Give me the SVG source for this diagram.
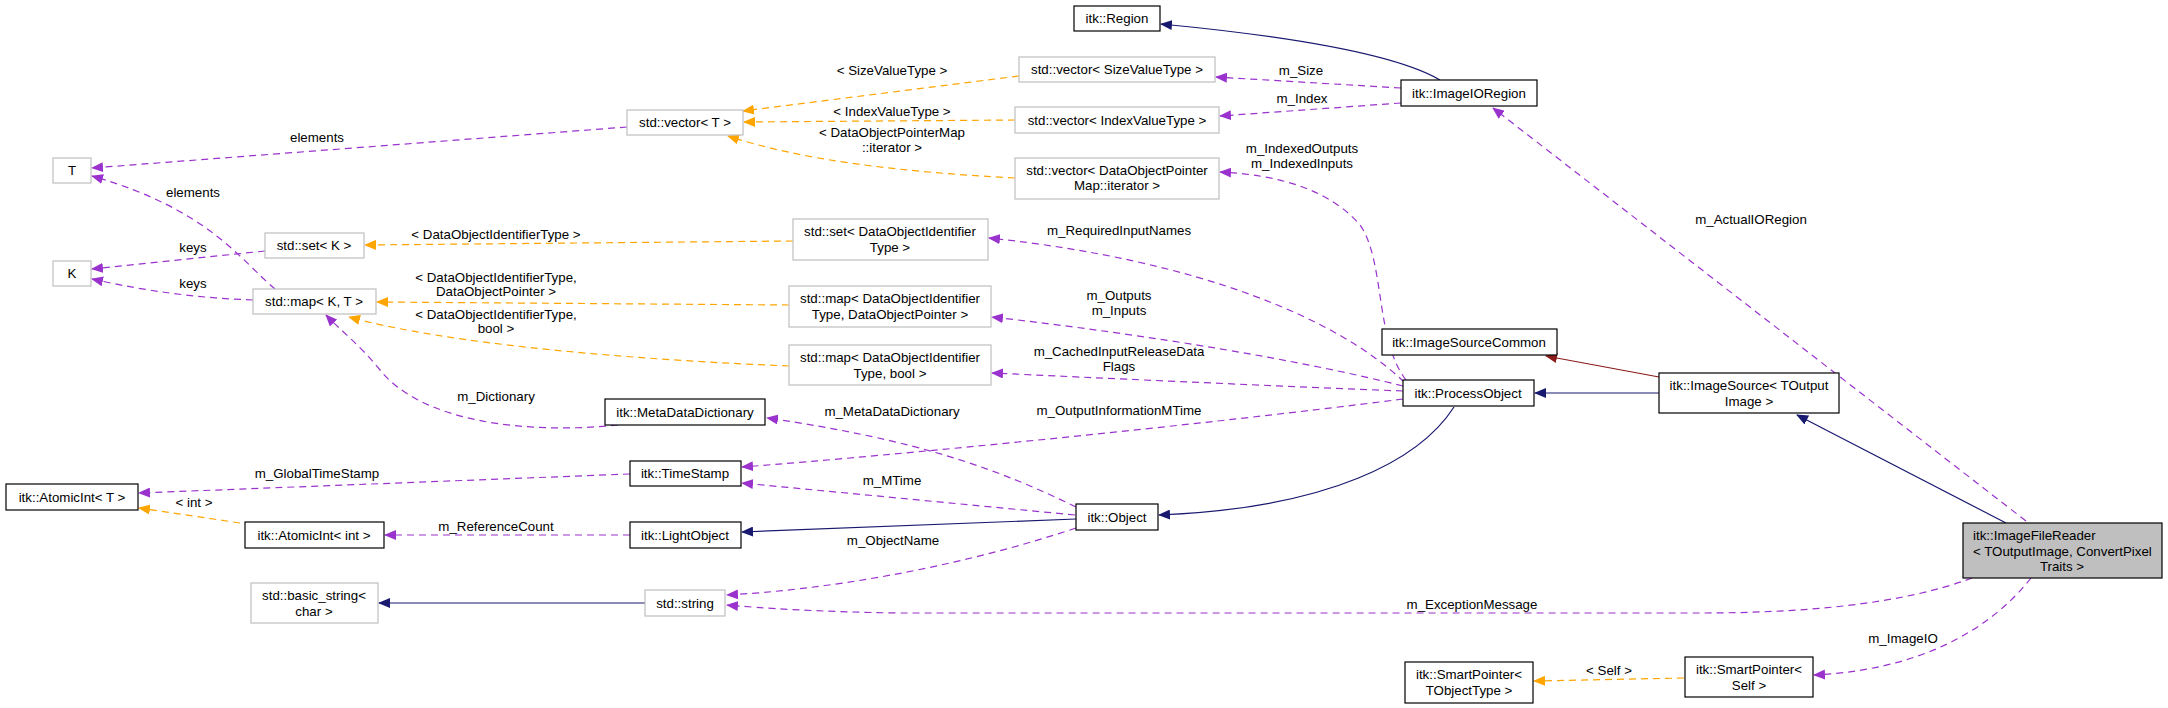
<svg xmlns="http://www.w3.org/2000/svg" width="2168" height="708" viewBox="0 0 2168 708">
<style>
text{font-family:"Liberation Sans",Arial,sans-serif;font-size:13.3px;fill:#000}
.n rect{fill:#fff;stroke:#000;stroke-width:1.2}
.g rect{fill:#fff;stroke:#bfbfbf;stroke-width:1.2}
.cur rect{fill:#bfbfbf;stroke:#000;stroke-width:1.2}
.c text{text-anchor:middle}
.n text,.g text{text-anchor:middle}
.p{fill:none;stroke:#9a32cd;stroke-width:1.2;stroke-dasharray:7,5;marker-end:url(#mp)}
.o{fill:none;stroke:#ffa500;stroke-width:1.2;stroke-dasharray:7,5;marker-end:url(#mo)}
.b{fill:none;stroke:#191970;stroke-width:1.2;marker-end:url(#mb)}
.r{fill:none;stroke:#8b1a1a;stroke-width:1.2;marker-end:url(#mr)}
</style>
<defs>
<marker id="mp" markerWidth="12" markerHeight="10" refX="11" refY="5" orient="auto" markerUnits="userSpaceOnUse"><path d="M0,0L12,5L0,10z" fill="#9a32cd"/></marker>
<marker id="mo" markerWidth="12" markerHeight="10" refX="11" refY="5" orient="auto" markerUnits="userSpaceOnUse"><path d="M0,0L12,5L0,10z" fill="#ffa500"/></marker>
<marker id="mb" markerWidth="12" markerHeight="10" refX="11" refY="5" orient="auto" markerUnits="userSpaceOnUse"><path d="M0,0L12,5L0,10z" fill="#191970"/></marker>
<marker id="mr" markerWidth="12" markerHeight="10" refX="11" refY="5" orient="auto" markerUnits="userSpaceOnUse"><path d="M0,0L12,5L0,10z" fill="#8b1a1a"/></marker>
</defs>
<rect width="2168" height="708" fill="#fff"/>
<g id="connectors" class="c">
<path class="b" d="M1440,80 Q1380,45 1161,24"/>
<path class="p" d="M1401,88 L1216,77"/><text x="1301" y="75">m_Size</text>
<path class="p" d="M1401,103 L1220,116"/><text x="1302" y="103">m_Index</text>
<path class="o" d="M1019,76 L743,111"/><text x="892" y="75">&lt; SizeValueType &gt;</text>
<path class="o" d="M1015,120 L744,122"/><text x="892" y="116">&lt; IndexValueType &gt;</text>
<path class="o" d="M1015,178 C900,172 800,160 728,136"/><text x="892" y="137">&lt; DataObjectPointerMap</text><text x="892" y="152">::iterator &gt;</text>
<path class="p" d="M627,127 L92,168"/><text x="317" y="142">elements</text>
<path class="p" d="M275,289 C240,260 210,210 92,176"/><text x="193" y="197">elements</text>
<path class="p" d="M265,251 L92,269"/><text x="193" y="252">keys</text>
<path class="p" d="M253,300 C200,298 150,292 92,279"/><text x="193" y="288">keys</text>
<path class="o" d="M793,241 L365,245"/><text x="496" y="239">&lt; DataObjectIdentifierType &gt;</text>
<path class="o" d="M789,305 L377,302"/><text x="496" y="282">&lt; DataObjectIdentifierType,</text><text x="496" y="296">DataObjectPointer &gt;</text>
<path class="o" d="M789,366 C640,360 450,345 349,317"/><text x="496" y="319">&lt; DataObjectIdentifierType,</text><text x="496" y="333">bool &gt;</text>
<path class="p" d="M1406,380 C1375,340 1385,260 1360,225 C1330,190 1280,175 1220,172"/><text x="1302" y="153">m_IndexedOutputs</text><text x="1302" y="168">m_IndexedInputs</text>
<path class="p" d="M1404,382 C1340,320 1200,260 989,238"/><text x="1119" y="235">m_RequiredInputNames</text>
<path class="p" d="M1403,386 C1300,360 1150,335 992,317"/><text x="1119" y="300">m_Outputs</text><text x="1119" y="315">m_Inputs</text>
<path class="p" d="M1403,391 C1250,385 1100,378 992,373"/><text x="1119" y="356">m_CachedInputReleaseData</text><text x="1119" y="371">Flags</text>
<path class="p" d="M1403,399 C1200,425 900,455 742,467"/><text x="1119" y="415">m_OutputInformationMTime</text>
<path class="r" d="M1659,377 L1546,356"/>
<path class="b" d="M1659,393 L1535,393"/>
<path class="b" d="M2006,523 L1797,415"/>
<path class="p" d="M2026,521 L1493,108"/><text x="1751" y="224">m_ActualIORegion</text>
<path class="b" d="M1454,407 C1420,460 1330,508 1159,515"/>
<path class="p" d="M1076,507 C1000,470 920,440 767,418"/><text x="892" y="416">m_MetaDataDictionary</text>
<path class="p" d="M1075,515 L742,483"/><text x="892" y="485">m_MTime</text>
<path class="b" d="M1076,519 L742,532"/>
<path class="p" d="M1076,528 C950,570 820,590 727,595"/><text x="893" y="545">m_ObjectName</text>
<path class="p" d="M1972,578 C1900,605 1800,613 1700,613 L900,613 C820,612 760,608 727,605"/><text x="1472" y="609">m_ExceptionMessage</text>
<path class="p" d="M2031,578 C1990,630 1920,670 1814,675"/><text x="1903" y="643">m_ImageIO</text>
<path class="o" d="M1684,678 L1534,681"/><text x="1609" y="675">&lt; Self &gt;</text>
<path class="p" d="M630,474 L139,493"/><text x="317" y="478">m_GlobalTimeStamp</text>
<path class="o" d="M240,523 L139,508"/><text x="194" y="507">&lt; int &gt;</text>
<path class="p" d="M630,535 L385,535"/><text x="496" y="531">m_ReferenceCount</text>
<path class="b" d="M645,603 L379,603"/>
<path class="p" d="M618,425 C520,435 420,420 380,370 C360,345 340,330 326,315"/><text x="496" y="401">m_Dictionary</text>
</g>
<g id="n_region" class="n"><rect x="1074" y="6" width="86" height="25"/><text x="1117" y="23">itk::Region</text></g>
<g id="n_vsize" class="g"><rect x="1019" y="57" width="196" height="25"/><text x="1117" y="74">std::vector&lt; SizeValueType &gt;</text></g>
<g id="n_ioregion" class="n"><rect x="1401" y="80" width="136" height="26"/><text x="1469" y="98">itk::ImageIORegion</text></g>
<g id="n_vT" class="g"><rect x="627" y="110" width="116" height="25"/><text x="685" y="127">std::vector&lt; T &gt;</text></g>
<g id="n_vindex" class="g"><rect x="1015" y="107" width="204" height="26"/><text x="1117" y="125">std::vector&lt; IndexValueType &gt;</text></g>
<g id="n_viter" class="g"><rect x="1015" y="158" width="204" height="41"/><text x="1117" y="175">std::vector&lt; DataObjectPointer</text><text x="1117" y="190">Map::iterator &gt;</text></g>
<g id="n_T" class="g"><rect x="53" y="158" width="38" height="25"/><text x="72" y="175">T</text></g>
<g id="n_K" class="g"><rect x="53" y="261" width="38" height="25"/><text x="72" y="278">K</text></g>
<g id="n_setK" class="g"><rect x="265" y="233" width="99" height="25"/><text x="314" y="250">std::set&lt; K &gt;</text></g>
<g id="n_mapKT" class="g"><rect x="253" y="289" width="123" height="25"/><text x="314" y="306">std::map&lt; K, T &gt;</text></g>
<g id="n_setDOI" class="g"><rect x="793" y="219" width="195" height="41"/><text x="890" y="236">std::set&lt; DataObjectIdentifier</text><text x="890" y="252">Type &gt;</text></g>
<g id="n_mapDOP" class="g"><rect x="789" y="286" width="202" height="41"/><text x="890" y="303">std::map&lt; DataObjectIdentifier</text><text x="890" y="319">Type, DataObjectPointer &gt;</text></g>
<g id="n_mapBool" class="g"><rect x="789" y="345" width="202" height="40"/><text x="890" y="362">std::map&lt; DataObjectIdentifier</text><text x="890" y="378">Type, bool &gt;</text></g>
<g id="n_isc" class="n"><rect x="1382" y="329" width="175" height="26"/><text x="1469" y="347">itk::ImageSourceCommon</text></g>
<g id="n_mdd" class="n"><rect x="605" y="399" width="160" height="26"/><text x="685" y="417">itk::MetaDataDictionary</text></g>
<g id="n_po" class="n"><rect x="1403" y="380" width="131" height="26"/><text x="1468" y="398">itk::ProcessObject</text></g>
<g id="n_is" class="n"><rect x="1659" y="373" width="180" height="40"/><text x="1749" y="390">itk::ImageSource&lt; TOutput</text><text x="1749" y="406">Image &gt;</text></g>
<g id="n_ts" class="n"><rect x="630" y="461" width="111" height="25"/><text x="685" y="478">itk::TimeStamp</text></g>
<g id="n_aiT" class="n"><rect x="6" y="484" width="132" height="26"/><text x="72" y="502">itk::AtomicInt&lt; T &gt;</text></g>
<g id="n_aiInt" class="n"><rect x="245" y="522" width="139" height="26"/><text x="314" y="540">itk::AtomicInt&lt; int &gt;</text></g>
<g id="n_lo" class="n"><rect x="630" y="522" width="111" height="26"/><text x="685" y="540">itk::LightObject</text></g>
<g id="n_obj" class="n"><rect x="1076" y="504" width="82" height="26"/><text x="1117" y="522">itk::Object</text></g>
<g id="n_bs" class="g"><rect x="251" y="583" width="127" height="40"/><text x="314" y="600">std::basic_string&lt;</text><text x="314" y="616">char &gt;</text></g>
<g id="n_str" class="g"><rect x="645" y="590" width="80" height="26"/><text x="685" y="608">std::string</text></g>
<g id="n_ifr" class="cur"><rect x="1963" y="523" width="199" height="55"/><text x="1973" y="540">itk::ImageFileReader</text><text x="1973" y="556">&lt; TOutputImage, ConvertPixel</text><text x="2062" y="571" text-anchor="middle">Traits &gt;</text></g>
<g id="n_spT" class="n"><rect x="1405" y="662" width="128" height="41"/><text x="1469" y="679">itk::SmartPointer&lt;</text><text x="1469" y="695">TObjectType &gt;</text></g>
<g id="n_spS" class="n"><rect x="1685" y="657" width="128" height="40"/><text x="1749" y="674">itk::SmartPointer&lt;</text><text x="1749" y="690">Self &gt;</text></g>
</svg>
